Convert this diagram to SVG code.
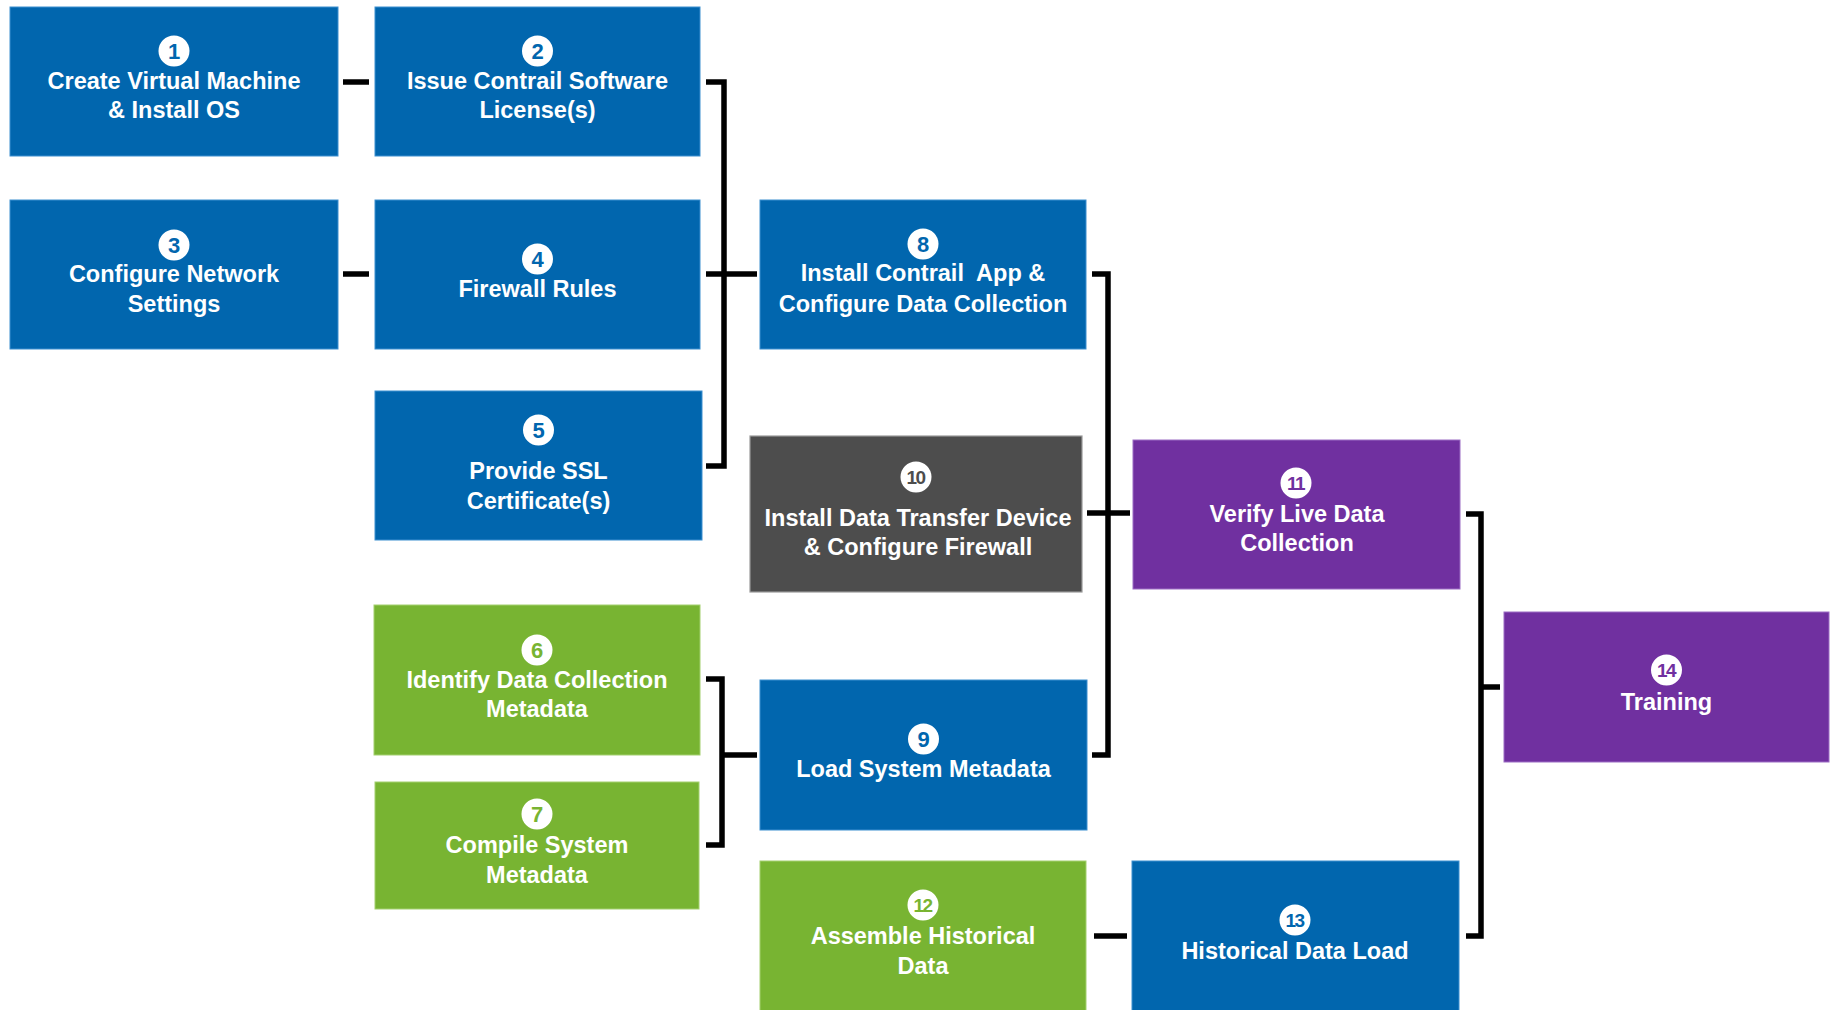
<svg xmlns="http://www.w3.org/2000/svg" width="1835" height="1010" viewBox="0 0 1835 1010">
<style>
  .blue{fill:#0166AE;stroke:#3d8fd0;stroke-width:1}
  .green{fill:#78B432;stroke:#a3d06e;stroke-width:1}
  .gray{fill:#4D4D4D;stroke:#9a9a9a;stroke-width:1.2}
  .purple{fill:#7030A0;stroke:#9c6cc4;stroke-width:1}
  .lbl{font-family:"Liberation Sans",Arial,sans-serif;font-weight:bold;font-size:23.5px;fill:#ffffff;text-anchor:middle}
  .badge{fill:#ffffff}
  .num{font-family:"Liberation Sans",Arial,sans-serif;font-weight:bold;font-size:22px;text-anchor:middle}
  .num2{font-family:"Liberation Sans",Arial,sans-serif;font-weight:bold;font-size:19px;text-anchor:middle;letter-spacing:-1.5px}
  .nb{fill:#0166AE}.ng{fill:#78B432}.nk{fill:#4D4D4D}.np{fill:#7030A0}
  .conn{fill:none;stroke:#000000;stroke-width:5.5;stroke-linecap:butt;stroke-linejoin:miter}
</style>
<rect width="1835" height="1010" fill="#ffffff"/>

<g id="connectors">
  <path class="conn" d="M343 82 H369"/>
  <path class="conn" d="M343 274 H369"/>
  <path class="conn" d="M706 82 H724 V466 H706"/>
  <path class="conn" d="M706 274 H757"/>
  <path class="conn" d="M706 679 H722 V845 H706"/>
  <path class="conn" d="M722 755 H757"/>
  <path class="conn" d="M1092 274 H1108 V755 H1092"/>
  <path class="conn" d="M1087 513 H1130"/>
  <path class="conn" d="M1466 514 H1481 V936 H1466"/>
  <path class="conn" d="M1481 687 H1500"/>
  <path class="conn" d="M1094 936 H1127"/>
</g>

<g id="node1">
  <rect class="blue" x="10" y="7" width="328" height="149"/>
  <circle class="badge" cx="174" cy="51" r="15.5"/>
  <text class="num nb" x="174" y="59">1</text>
  <text class="lbl" x="174" y="89">Create Virtual Machine</text>
  <text class="lbl" x="174" y="118">&amp; Install OS</text>
</g>
<g id="node2">
  <rect class="blue" x="375" y="7" width="325" height="149"/>
  <circle class="badge" cx="537.5" cy="51" r="15.5"/>
  <text class="num nb" x="537.5" y="59">2</text>
  <text class="lbl" x="537.5" y="89">Issue Contrail Software</text>
  <text class="lbl" x="537.5" y="118">License(s)</text>
</g>
<g id="node3">
  <rect class="blue" x="10" y="200" width="328" height="149"/>
  <circle class="badge" cx="174" cy="245" r="15.5"/>
  <text class="num nb" x="174" y="253">3</text>
  <text class="lbl" x="174" y="282">Configure Network</text>
  <text class="lbl" x="174" y="312">Settings</text>
</g>
<g id="node4">
  <rect class="blue" x="375" y="200" width="325" height="149"/>
  <circle class="badge" cx="537.5" cy="259" r="15.5"/>
  <text class="num nb" x="537.5" y="267">4</text>
  <text class="lbl" x="537.5" y="297">Firewall Rules</text>
</g>
<g id="node5">
  <rect class="blue" x="375" y="391" width="327" height="149"/>
  <circle class="badge" cx="538.5" cy="430" r="15.5"/>
  <text class="num nb" x="538.5" y="438">5</text>
  <text class="lbl" x="538.5" y="479">Provide SSL</text>
  <text class="lbl" x="538.5" y="509">Certificate(s)</text>
</g>
<g id="node6">
  <rect class="green" x="374" y="605" width="326" height="150"/>
  <circle class="badge" cx="537" cy="650" r="15.5"/>
  <text class="num ng" x="537" y="658">6</text>
  <text class="lbl" x="537" y="688">Identify Data Collection</text>
  <text class="lbl" x="537" y="717">Metadata</text>
</g>
<g id="node7">
  <rect class="green" x="375" y="782" width="324" height="127"/>
  <circle class="badge" cx="537" cy="814" r="15.5"/>
  <text class="num ng" x="537" y="822">7</text>
  <text class="lbl" x="537" y="853">Compile System</text>
  <text class="lbl" x="537" y="883">Metadata</text>
</g>
<g id="node8">
  <rect class="blue" x="760" y="200" width="326" height="149"/>
  <circle class="badge" cx="923" cy="244" r="15.5"/>
  <text class="num nb" x="923" y="252">8</text>
  <text class="lbl" x="923" y="281" xml:space="preserve">Install Contrail  App &amp;</text>
  <text class="lbl" x="923" y="312">Configure Data Collection</text>
</g>
<g id="node9">
  <rect class="blue" x="760" y="680" width="327" height="150"/>
  <circle class="badge" cx="923.5" cy="739" r="15.5"/>
  <text class="num nb" x="923.5" y="747">9</text>
  <text class="lbl" x="923.5" y="777">Load System Metadata</text>
</g>
<g id="node10">
  <rect class="gray" x="750" y="436" width="332" height="156"/>
  <circle class="badge" cx="916" cy="477" r="15.5"/>
  <text class="num2 nk" x="915.5" y="484">10</text>
  <text class="lbl" x="918" y="526">Install Data Transfer Device</text>
  <text class="lbl" x="918" y="555">&amp; Configure Firewall</text>
</g>
<g id="node11">
  <rect class="purple" x="1133" y="440" width="327" height="149"/>
  <circle class="badge" cx="1296" cy="483" r="15.5"/>
  <text class="num2 np" x="1295.5" y="490">11</text>
  <text class="lbl" x="1297" y="522">Verify Live Data</text>
  <text class="lbl" x="1297" y="551">Collection</text>
</g>
<g id="node12">
  <rect class="green" x="760" y="861" width="326" height="150"/>
  <circle class="badge" cx="923" cy="905" r="15.5"/>
  <text class="num2 ng" x="922.5" y="912">12</text>
  <text class="lbl" x="923" y="944">Assemble Historical</text>
  <text class="lbl" x="923" y="974">Data</text>
</g>
<g id="node13">
  <rect class="blue" x="1132" y="861" width="327" height="150"/>
  <circle class="badge" cx="1295" cy="920" r="15.5"/>
  <text class="num2 nb" x="1294.5" y="927">13</text>
  <text class="lbl" x="1295" y="959">Historical Data Load</text>
</g>
<g id="node14">
  <rect class="purple" x="1504" y="612" width="325" height="150"/>
  <circle class="badge" cx="1666.5" cy="670" r="15.5"/>
  <text class="num2 np" x="1666" y="677">14</text>
  <text class="lbl" x="1666.5" y="710">Training</text>
</g>
</svg>
